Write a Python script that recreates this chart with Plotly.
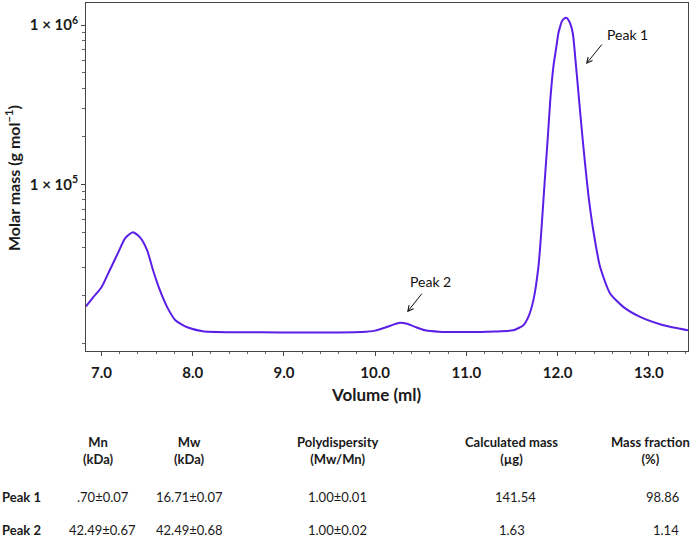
import plotly.graph_objects as go

# ---- chromatogram data (volume in ml, molar mass in g/mol) ----
volume = [6.83, 6.91, 7.00, 7.09, 7.18, 7.26, 7.345, 7.42, 7.50, 7.565, 7.64, 7.72, 7.81, 7.94,
          8.11, 8.41, 8.74, 9.20, 9.60, 9.85, 10.00, 10.12, 10.20, 10.27, 10.35, 10.45, 10.55,
          10.70, 11.00, 11.30, 11.515, 11.625, 11.68, 11.735, 11.79, 11.82, 11.845, 11.87, 11.896,
          11.92, 11.954, 11.985, 12.009, 12.028, 12.046, 12.07, 12.093, 12.115, 12.137, 12.167,
          12.203, 12.236, 12.269, 12.305, 12.345, 12.397, 12.466, 12.576, 12.72, 12.905, 13.16, 13.43]
molar_mass = [17180, 19600, 22650, 28950, 37050, 46000, 50150, 46650, 38650, 28950, 21700, 17000,
              14070, 12700, 12000, 11830, 11800, 11780, 11780, 11850, 12100, 12700, 13200, 13550,
              13350, 12700, 12150, 11900, 11850, 11950, 12170, 13090, 14760, 18800, 30400, 49200,
              79600, 129000, 209000, 338000, 547000, 720000, 887000, 977000, 1050000, 1095000,
              1110000, 1085000, 1026000, 887000, 547000, 338000, 209000, 129000, 79600, 49200,
              30400, 20700, 17060, 14760, 13090, 12170]

x_tick_vals = [7, 8, 9, 10, 11, 12, 13]
x_tick_text = ["7.0", "8.0", "9.0", "10.0", "11.0", "12.0", "13.0"]
y_tick_vals = [1e5, 1e6]
y_tick_text = ["1 × 10<sup>5</sup>", "1 × 10<sup>6</sup>"]

# ---- table data ----
table_headers = ["Mn<br>(kDa)", "Mw<br>(kDa)", "Polydispersity<br>(Mw/Mn)",
                 "Calculated mass<br>(µg)", "Mass fraction<br>(%)"]
row_labels = ["Peak 1", "Peak 2"]
peak1_values = [".70±0.07", "16.71±0.07", "1.00±0.01", "141.54", "98.86"]
peak2_values = ["42.49±0.67", "42.49±0.68", "1.00±0.02", "1.63", "1.14"]

# ---- layout constants (pixels) ----
W, H = 692, 539
L, R, T, B = 86, 688, 3, 351
FONT = "Lato"
LINE_COLOR = "#5a1ee6"

def px_x(px):
    return (px - L) / (R - L)

def px_y(py):
    return (B - py) / (B - T)

fig = go.Figure()
fig.add_trace(go.Scatter(
    x=volume, y=molar_mass, mode="lines",
    line=dict(color=LINE_COLOR, width=2, shape="spline", smoothing=0.6),
    showlegend=False, hoverinfo="skip"))

fig.update_layout(
    width=W, height=H,
    margin=dict(l=L, r=W - R, t=T, b=H - B),
    paper_bgcolor="white", plot_bgcolor="white",
    font=dict(family=FONT, color="#1a1a1a"),
    xaxis=dict(range=[6.83, 13.43], tickmode="array", tickvals=x_tick_vals, ticktext=x_tick_text,
               ticks="outside", ticklen=4, tickwidth=1, tickcolor="#444",
               showline=True, linecolor="#444", linewidth=1, mirror=True,
               showgrid=False, zeroline=False,
               tickfont=dict(family=FONT, size=15, color="#1a1a1a", weight="bold"),
               ticklabelstandoff=4,
               minor=dict(ticks="outside", ticklen=2, tickcolor="#666", dtick=0.2, tick0=7,
                          showgrid=False)),
    yaxis=dict(type="log", range=[3.955, 6.138], tickmode="array", tickvals=y_tick_vals,
               ticktext=y_tick_text, ticks="outside", ticklen=4, tickwidth=1, tickcolor="#444",
               showline=True, linecolor="#444", linewidth=1, mirror=True,
               showgrid=False, zeroline=False,
               tickfont=dict(family=FONT, size=15, color="#1a1a1a", weight="bold"),
               minor=dict(ticks="outside", ticklen=3, tickcolor="#666", showgrid=False,
                          tickmode="array",
                          tickvals=[1e4] + [k * 1e4 for k in range(2, 10)] + [k * 1e5 for k in range(2, 10)])),
)

ann = []
# axis titles
ann.append(dict(text="<b>Volume (ml)</b>", xref="paper", yref="paper", x=px_x(376), y=px_y(394),
                xanchor="center", yanchor="middle", showarrow=False, font=dict(size=17)))
ann.append(dict(text="<b>Molar mass (g mol<sup>−1</sup>)</b>", xref="paper", yref="paper",
                x=px_x(12), y=px_y(178), textangle=-90, xanchor="center", yanchor="middle",
                showarrow=False, font=dict(size=16)))

# peak labels and arrows (data coords, log10 for y)
ann.append(dict(text="Peak 1", x=12.762, y=5.943, xref="x", yref="y", showarrow=False,
                font=dict(size=14, color="#111")))
ann.append(dict(text="", x=12.312, y=5.755, ax=12.499, ay=5.887, xref="x", yref="y",
                axref="x", ayref="y", showarrow=True, arrowhead=5, arrowsize=1.1, arrowwidth=1,
                arrowcolor="#111", standoff=0))
ann.append(dict(text="Peak 2", x=10.602, y=4.393, xref="x", yref="y", showarrow=False,
                font=dict(size=14, color="#111")))
ann.append(dict(text="", x=10.35, y=4.198, ax=10.525, ay=4.324, xref="x", yref="y",
                axref="x", ayref="y", showarrow=True, arrowhead=5, arrowsize=1.1, arrowwidth=1,
                arrowcolor="#111", standoff=0))

# table
col_x_px = [98, 189, 337, 511, 650]
val_x_px = [[103, 189, 337, 515, 662], [102, 189, 337, 512, 666]]
row_y_px = [497, 530]
for h, cx in zip(table_headers, col_x_px):
    ann.append(dict(text="<b>" + h.replace("<br>", "</b><br><b>") + "</b>", xref="paper", yref="paper",
                    x=px_x(cx), y=px_y(450), xanchor="center", yanchor="middle", showarrow=False,
                    font=dict(size=13), align="center"))
for r, (lab, vals) in enumerate(zip(row_labels, [peak1_values, peak2_values])):
    ann.append(dict(text="<b>" + lab + "</b>", xref="paper", yref="paper", x=px_x(0), y=px_y(row_y_px[r]),
                    xanchor="left", yanchor="middle", showarrow=False, font=dict(size=13)))
    for v, cx in zip(vals, val_x_px[r]):
        ann.append(dict(text=v, xref="paper", yref="paper", x=px_x(cx), y=px_y(row_y_px[r]),
                        xanchor="center", yanchor="middle", showarrow=False, font=dict(size=13)))

fig.update_layout(annotations=ann)
fig.write_html("out.html", config={"displayModeBar": False},
               post_script="document.body.style.margin='0';document.body.style.overflow='hidden';")
